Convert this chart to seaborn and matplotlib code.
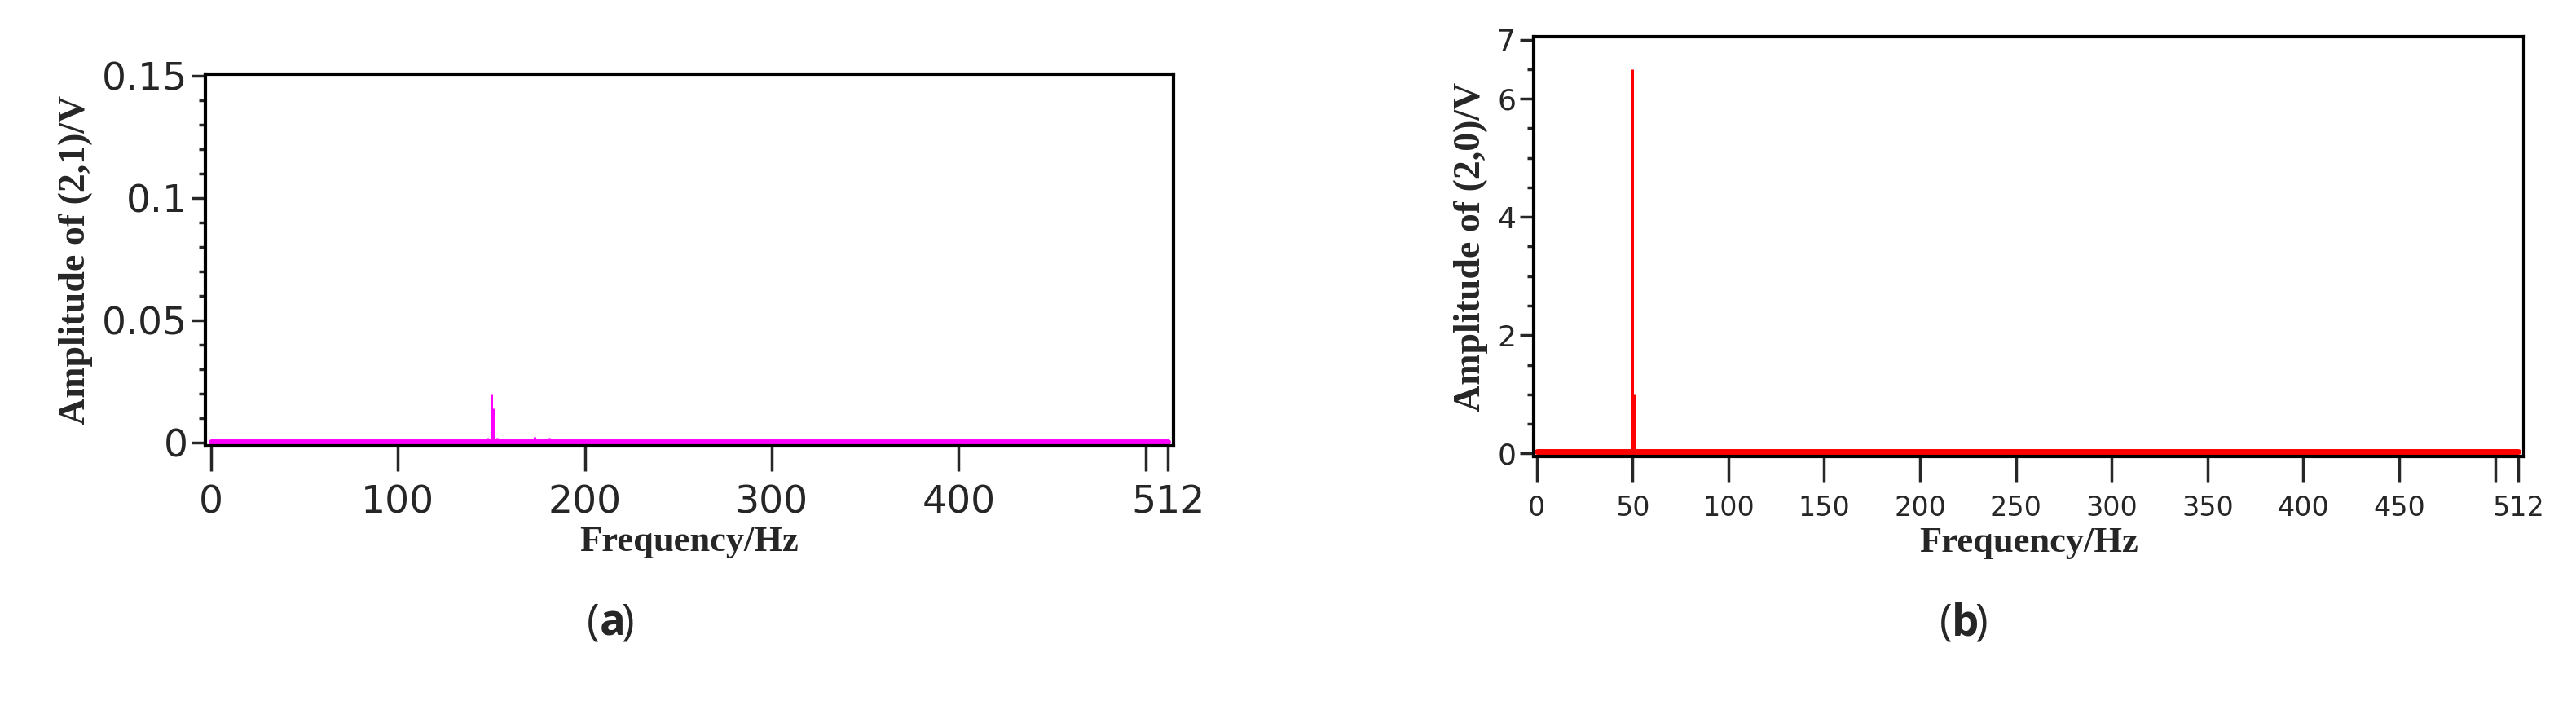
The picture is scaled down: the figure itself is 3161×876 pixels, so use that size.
import numpy as np
import pandas as pd
import seaborn as sns
import matplotlib
matplotlib.use("Agg")
import matplotlib.pyplot as plt
from matplotlib.ticker import MultipleLocator

sns.set_theme(style="white")
plt.rcParams['font.family'] = ['Liberation Sans Narrow', 'DejaVu Sans']

# Panel (a): (2,1) mode spectrum, peaks
a_freq = [110, 113, 118, 122, 126, 130, 134, 138, 142, 144, 146, 148, 150, 151, 153, 156, 160, 163, 166, 170, 173, 175, 178, 181, 184, 187, 190, 195, 200, 205, 210, 226, 250, 262, 363]
a_amp = [0.0008, 0.0005, 0.0006, 0.0005, 0.0008, 0.0009, 0.0012, 0.0010, 0.0015, 0.0013, 0.0016, 0.0022, 0.0198, 0.0142, 0.0020, 0.0014, 0.0016, 0.0018, 0.0012, 0.0015, 0.0025, 0.0018, 0.0016, 0.0020, 0.0019, 0.0017, 0.0012, 0.0007, 0.0006, 0.0005, 0.0007, 0.0008, 0.0006, 0.0007, 0.0007]
a_xticks = [0, 100, 200, 300, 400, 500, 512]
a_xlabels = ["0", "100", "200", "300", "400", "", "512"]
a_yticks = [0, 0.05, 0.1, 0.15]
a_ylabels = ["0", "0.05", "0.1", "0.15"]

# Panel (b): (2,0) mode spectrum
b_freq = [50, 51]
b_amp = [6.5, 1.0]
b_xticks = [0, 50, 100, 150, 200, 250, 300, 350, 400, 450, 500, 512]
b_xlabels = ["0", "50", "100", "150", "200", "250", "300", "350", "400", "450", "", "512"]
b_yticks = [0, 2, 4, 6, 7]
b_ylabels = ["0", "2", "4", "6", "7"]

fig = plt.figure(figsize=(31.61, 8.76), dpi=100)
W, H = 3161, 876
axa = fig.add_axes([252 / W, 1 - 547 / H, (1440 - 252) / W, (547 - 91) / H])
axb = fig.add_axes([1882 / W, 1 - 560 / H, (3097 - 1882) / W, (560 - 45) / H])

def draw(ax, freq, amp, color, base, xlim, ylim, xt, xl, yt, yl, minor, ylabel, xs, ys):
    f = np.arange(0, 513)
    spec = np.full(f.shape, base, dtype=float)
    for fr, am in zip(freq, amp):
        spec[fr] = am
    df = pd.DataFrame({"f": f, "amp": spec})
    ax.vlines(df["f"], 0, df["amp"], color=color, linewidth=2.2)
    sns.lineplot(data=df, x="f", y=np.full(len(f), base), ax=ax, color=color, linewidth=5)
    ax.set_xlim(*xlim)
    ax.set_ylim(*ylim)
    ax.set_xticks(xt)
    ax.set_xticklabels(xl)
    ax.set_yticks(yt)
    ax.set_yticklabels(yl)
    ax.yaxis.set_minor_locator(MultipleLocator(minor))
    ax.tick_params(axis='x', which='major', direction='out', length=22, width=2.5, pad=12, bottom=True, labelsize=xs)
    ax.tick_params(axis='y', which='major', direction='out', length=12, width=2.5, left=True, labelsize=ys)
    ax.tick_params(axis='y', which='minor', direction='out', length=6, width=2.5, left=True)
    for s in ax.spines.values():
        s.set_linewidth(3)
        s.set_color('black')
    ax.set_xlabel("Frequency/Hz", fontsize=32, fontweight='bold', family='Liberation Serif', labelpad=4)
    ax.set_ylabel(ylabel, fontsize=33, fontweight='bold', family='Liberation Serif', labelpad=8)

draw(axa, a_freq, a_amp, '#ff00ff', 0.0003, (-3, 515), (-0.0012, 0.1505),
     a_xticks, a_xlabels, a_yticks, a_ylabels, 0.01, "Amplitude of (2,1)/V", 34, 34)
draw(axb, b_freq, b_amp, '#ff0000', 0.03, (-1.5, 515), (-0.05, 7.05),
     b_xticks, b_xlabels, b_yticks, b_ylabels, 0.5, "Amplitude of (2,0)/V", 24, 26)

for x0, x1, x2, letter in [(736, 736, 762, "a"), (2395, 2395, 2423, "b")]:
    fig.text(x0 / W, 1 - 765 / H, "(", fontsize=38, family='Open Sans', ha='right', va='center')
    fig.text(x1 / W, 1 - 765 / H, letter, fontsize=38, family='Open Sans', fontweight='bold', ha='left', va='center')
    fig.text(x2 / W, 1 - 765 / H, ")", fontsize=38, family='Open Sans', ha='left', va='center')

fig.savefig("out.png", dpi=100)
